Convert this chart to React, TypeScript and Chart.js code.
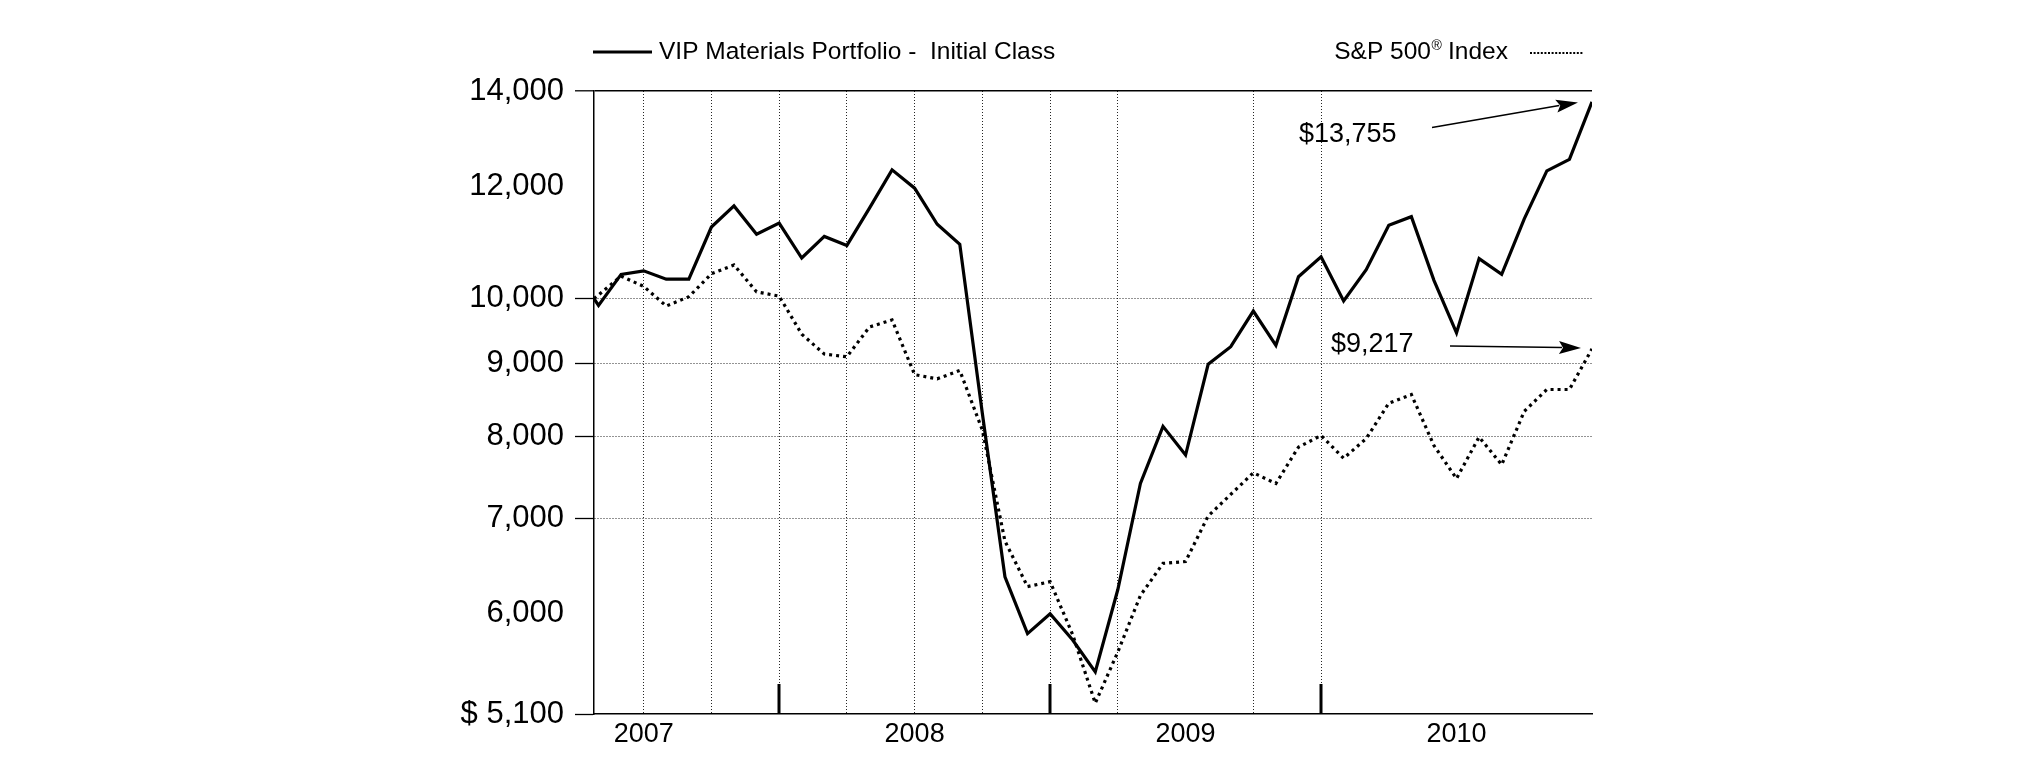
import React, { useEffect, useRef } from "react";
import { Chart, registerables } from "chart.js";

Chart.register(...registerables);

// ---- data ----
const dates = [
  "2007-04-24", "2007-04-30", "2007-05-31", "2007-06-30", "2007-07-31", "2007-08-31",
  "2007-09-30", "2007-10-31", "2007-11-30", "2007-12-31",
  "2008-01-31", "2008-02-29", "2008-03-31", "2008-04-30", "2008-05-31", "2008-06-30",
  "2008-07-31", "2008-08-31", "2008-09-30", "2008-10-31", "2008-11-30", "2008-12-31",
  "2009-01-31", "2009-02-28", "2009-03-31", "2009-04-30", "2009-05-31", "2009-06-30",
  "2009-07-31", "2009-08-31", "2009-09-30", "2009-10-31", "2009-11-30", "2009-12-31",
  "2010-01-31", "2010-02-28", "2010-03-31", "2010-04-30", "2010-05-31", "2010-06-30",
  "2010-07-31", "2010-08-31", "2010-09-30", "2010-10-31", "2010-11-30", "2010-12-31",
];

const fundValues = [
  10000, 9890, 10400, 10460, 10320, 10320, 11230, 11620, 11100, 11300,
  10680, 11060, 10900, 11580, 12320, 11960, 11280, 10920, 8300, 6370, 5810, 6000,
  5750, 5460, 6240, 7410, 8130, 7760, 8990, 9250, 9800, 9270, 10360, 10700,
  9960, 10480, 11260, 11420, 10300, 9460, 10670, 10400, 11380, 12300, 12530, 13755,
];

const indexValues = [
  10000, 10060, 10370, 10200, 9880, 10030, 10410, 10560, 10110, 10040,
  9440, 9140, 9100, 9550, 9660, 8840, 8780, 8900, 8080, 6750, 6270, 6320,
  5800, 5190, 5640, 6180, 6510, 6530, 7030, 7280, 7540, 7410, 7860, 8010,
  7720, 7970, 8440, 8560, 7880, 7470, 7990, 7640, 8330, 8630, 8630, 9217,
];

const yTickValues = [5100, 6000, 7000, 8000, 9000, 10000, 12000, 14000];
const yDottedGrid = [7000, 8000, 9000, 10000];
const yNoTickMark = [6000, 12000];

const xTickMonths = [6, 9, 12, 15, 18, 21, 24, 27, 30, 33, 36, 42];
const xDottedGrid = [6, 9, 12, 15, 18, 21, 24, 27, 33, 36];
const xYearCenters = [6, 18, 30, 42];
const xYearLabels = ["2007", "2008", "2009", "2010"];
const xYearEnds = [12, 24, 36];

const fundLabel = "VIP Materials Portfolio -  Initial Class";
const indexLabelParts = ["S&P 500", "\u00AE", " Index"];
const fundEndLabel = "$13,755";
const indexEndLabel = "$9,217";

const FONT = "'Liberation Sans', Arial, Helvetica, sans-serif";

function toMonth(d: string): number {
  const [y, m, day] = d.split("-").map(Number);
  const dim = new Date(y, m, 0).getDate();
  return (y - 2007) * 12 + (m - 1) + day / dim;
}

function drawArrow(ctx: CanvasRenderingContext2D, x1: number, y1: number, x2: number, y2: number) {
  const ang = Math.atan2(y2 - y1, x2 - x1);
  const hl = 22;
  const hw = 6.5;
  const c = Math.cos(ang);
  const s = Math.sin(ang);
  const bx = x2 - hl * c;
  const by = y2 - hl * s;
  ctx.beginPath();
  ctx.moveTo(x1, y1);
  ctx.lineTo(bx + 3 * c, by + 3 * s);
  ctx.lineWidth = 1.5;
  ctx.stroke();
  ctx.beginPath();
  ctx.moveTo(x2, y2);
  ctx.lineTo(bx + hw * s, by - hw * c);
  ctx.lineTo(bx + 4 * c, by + 4 * s);
  ctx.lineTo(bx - hw * s, by + hw * c);
  ctx.closePath();
  ctx.fill();
}

export default function App() {
  const canvasRef = useRef<HTMLCanvasElement>(null);

  useEffect(() => {
    document.body.style.margin = "0";
    const canvas = canvasRef.current;
    if (!canvas) return;

    const xs = dates.map(toMonth);
    const fundPts = xs.map((x, i) => ({ x, y: fundValues[i] }));
    const indexPts = xs.map((x, i) => ({ x, y: indexValues[i] }));
    const last = xs.length - 1;

    const overlay = {
      id: "overlay",
      afterDraw(chart: any) {
        const ctx: CanvasRenderingContext2D = chart.ctx;
        const sx = chart.scales.x;
        const sy = chart.scales.y;
        const area = chart.chartArea;
        ctx.save();
        ctx.strokeStyle = "#000";
        ctx.fillStyle = "#000";

        // year-end tick marks
        ctx.lineWidth = 3;
        xYearEnds.forEach((m) => {
          const px = Math.round(sx.getPixelForValue(m));
          ctx.beginPath();
          ctx.moveTo(px, area.bottom);
          ctx.lineTo(px, area.bottom - 30);
          ctx.stroke();
        });

        // legend left
        ctx.setLineDash([]);
        ctx.lineWidth = 3;
        ctx.beginPath();
        ctx.moveTo(593, 52);
        ctx.lineTo(652, 52);
        ctx.stroke();
        ctx.font = `24.5px ${FONT}`;
        ctx.textAlign = "left";
        ctx.textBaseline = "alphabetic";
        ctx.fillText(fundLabel, 659, 59);

        // legend right
        const bigFont = `24.5px ${FONT}`;
        const supFont = `14px ${FONT}`;
        ctx.font = bigFont;
        const w1 = ctx.measureText(indexLabelParts[0]).width;
        const w3 = ctx.measureText(indexLabelParts[2]).width;
        ctx.font = supFont;
        const w2 = ctx.measureText(indexLabelParts[1]).width;
        let tx = 1508 - (w1 + w2 + w3);
        ctx.font = bigFont;
        ctx.fillText(indexLabelParts[0], tx, 59);
        tx += w1;
        ctx.font = supFont;
        ctx.fillText(indexLabelParts[1], tx + 0.5, 50);
        tx += w2;
        ctx.font = bigFont;
        ctx.fillText(indexLabelParts[2], tx, 59);
        ctx.lineWidth = 2;
        ctx.setLineDash([2, 1.6]);
        ctx.beginPath();
        ctx.moveTo(1530, 53);
        ctx.lineTo(1583, 53);
        ctx.stroke();
        ctx.setLineDash([]);

        // end-value annotations
        ctx.font = `27px ${FONT}`;
        ctx.fillText(fundEndLabel, 1299, 142);
        ctx.fillText(indexEndLabel, 1331, 352);
        const ex = sx.getPixelForValue(xs[last]);
        drawArrow(ctx, 1432, 127.5, ex - 14, sy.getPixelForValue(fundValues[last]) + 0.5);
        drawArrow(ctx, 1450, 346, ex - 11, sy.getPixelForValue(indexValues[last]) - 1);

        ctx.restore();
      },
    };

    const chart = new Chart(canvas, {
      type: "line",
      data: {
        datasets: [
          {
            label: fundLabel,
            data: fundPts,
            borderColor: "#000",
            backgroundColor: "#000",
            borderWidth: 3.2,
            pointRadius: 0,
            tension: 0,
            fill: false,
            borderJoinStyle: "miter",
          },
          {
            label: indexLabelParts.join(""),
            data: indexPts,
            borderColor: "#000",
            backgroundColor: "#000",
            borderWidth: 3.2,
            borderDash: [3, 4],
            borderCapStyle: "butt",
            pointRadius: 0,
            tension: 0,
            fill: false,
          },
        ],
      },
      options: {
        responsive: false,
        animation: false,
        devicePixelRatio: 1,
        events: [],
        layout: { padding: { top: 91, right: 433, bottom: 0, left: 0 } },
        plugins: {
          legend: { display: false },
          tooltip: { enabled: false },
          title: { display: false },
        },
        scales: {
          x: {
            type: "linear",
            min: xs[0],
            max: xs[last],
            afterFit: (s: any) => {
              s.height = 47;
            },
            afterBuildTicks: (s: any) => {
              s.ticks = xTickMonths.map((v) => ({ value: v }));
            },
            ticks: {
              autoSkip: false,
              maxRotation: 0,
              minRotation: 0,
              padding: 4,
              color: "#000",
              font: { family: FONT, size: 27 },
              callback: (v: any) => {
                const i = xYearCenters.indexOf(Number(v));
                return i >= 0 ? xYearLabels[i] : "";
              },
            },
            grid: {
              drawTicks: false,
              lineWidth: 1,
              color: (c: any) =>
                c.tick && xDottedGrid.includes(c.tick.value) ? "rgba(0,0,0,0.85)" : "rgba(0,0,0,0)",
            },
            border: {
              display: true,
              color: "#000",
              width: 1.5,
              dash: (c: any) => (c.tick ? [1, 2] : []),
            },
          },
          y: {
            type: "logarithmic",
            min: 5100,
            max: 14000,
            afterFit: (s: any) => {
              s.width = 594;
            },
            afterBuildTicks: (s: any) => {
              s.ticks = yTickValues.map((v) => ({ value: v }));
            },
            ticks: {
              autoSkip: false,
              padding: 11,
              color: "#000",
              font: { family: FONT, size: 31 },
              callback: (v: any) => {
                const n = Number(v);
                const s = n.toLocaleString("en-US");
                return n === 5100 ? "$ " + s : s;
              },
            },
            grid: {
              drawTicks: true,
              tickLength: 19,
              tickWidth: 1.3,
              lineWidth: (c: any) => (c.tick && c.tick.value === 14000 ? 1.6 : 1),
              color: (c: any) => {
                const v = c.tick ? c.tick.value : null;
                if (v === 14000) return "#000";
                if (yDottedGrid.includes(v)) return "rgba(0,0,0,0.85)";
                return "rgba(0,0,0,0)";
              },
              tickColor: (c: any) =>
                c.tick && yNoTickMark.includes(c.tick.value) ? "rgba(0,0,0,0)" : "#000",
            },
            border: {
              display: true,
              color: "#000",
              width: 1.5,
              dash: (c: any) => (c.tick && yDottedGrid.includes(c.tick.value) ? [1, 2] : []),
            },
          },
        },
      } as any,
      plugins: [overlay],
    });

    return () => {
      chart.destroy();
    };
  }, []);

  return (
    <div style={{ position: "absolute", left: 0, top: 0, width: 2025, height: 761, background: "#fff" }}>
      <canvas ref={canvasRef} width={2025} height={761} style={{ display: "block", width: 2025, height: 761 }} />
    </div>
  );
}
